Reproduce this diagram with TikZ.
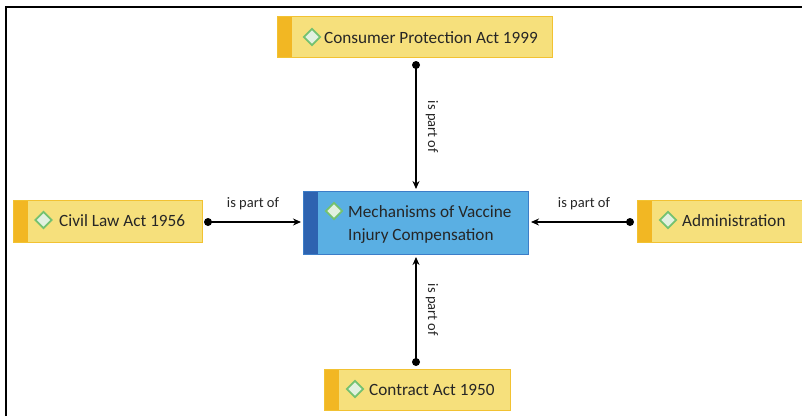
\documentclass[tikz,border=0pt]{standalone}
\usepackage{fontspec}
\setmainfont{Carlito}
\usetikzlibrary{shapes.geometric,arrows.meta}
\definecolor{fillyellow}{HTML}{F6E07C}
\definecolor{borderyellow}{HTML}{F2C232}
\definecolor{accentyellow}{HTML}{F2B723}
\definecolor{fillblue}{HTML}{5AAFE3}
\definecolor{borderblue}{HTML}{3C7DC8}
\definecolor{accentblue}{HTML}{2E63B0}
\definecolor{txtgray}{HTML}{262626}
\definecolor{dgreen}{HTML}{74C270}
\definecolor{lgreen}{HTML}{E2F1E0}
\tikzset{
  ybox/.style={fill=fillyellow, minimum height=41pt, inner sep=0pt},
  bbox/.style={fill=fillblue, minimum height=62pt, minimum width=224pt, inner sep=0pt},
  diam/.style={diamond, draw=dgreen, fill=lgreen, line width=1.7pt, minimum size=17pt, inner sep=0pt},
  lbl/.style={text=txtgray, font=\fontsize{17.2}{22}\selectfont, inner sep=0pt, anchor=west},
  rel/.style={text=txtgray, font=\fontsize{14.5}{17}\selectfont, inner sep=0pt},
  conn/.style={line width=1.3pt, -{Stealth[length=8pt,width=7pt]}},
  dotc/.style={circle, fill=black, minimum size=8pt, inner sep=0pt}
}
\newcommand{\boxaccent}[3]{%
  \fill[fill=#2] (#1.north west) rectangle ([xshift=14pt]#1.south west);
  \draw[draw=#3, line width=1pt] (#1.north west) rectangle (#1.south east);}
\begin{document}
\begin{tikzpicture}[x=1pt,y=-1pt]
\useasboundingbox (0,0) rectangle (802,416);
\fill[white] (0,0) rectangle (802,416);
\draw[line width=2pt] (6,416) -- (6,7) -- (802,7);
% boxes
\node[ybox, minimum width=274pt] (cpa) at (415,37) {};
\boxaccent{cpa}{accentyellow}{borderyellow}
\node[diam] (cpad) at (312,37) {};
\node[lbl] (cpat) at (324,37.5) {Consumer Protection Act 1999};

\node[ybox, minimum width=188pt] (cla) at (108,221.5) {};
\boxaccent{cla}{accentyellow}{borderyellow}
\node[diam] (clad) at (43.5,220) {};
\node[lbl] (clat) at (59,221) {Civil Law Act 1956};

\node[ybox, minimum width=180pt] (adm) at (728,221.5) {};
\boxaccent{adm}{accentyellow}{borderyellow}
\node[diam] (admd) at (668,220) {};
\node[lbl] (admt) at (682,221) {Administration};

\node[ybox, minimum width=185pt] (ca) at (417.5,390) {};
\boxaccent{ca}{accentyellow}{borderyellow}
\node[diam] (cad) at (355,389) {};
\node[lbl] (cat) at (369,390) {Contract Act 1950};

\node[bbox] (mech) at (416,223) {};
\boxaccent{mech}{accentblue}{borderblue}
\node[diam] (mechd) at (334,211) {};
\node[lbl, align=left, font=\fontsize{17.2}{23}\selectfont] (mecht) at (348,224) {Mechanisms of Vaccine\\Injury Compensation};

% connectors
\node[dotc] (p1) at (416,65) {};
\draw[conn] (p1.center) -- (416,189) coordinate (e1);
\node[rel, rotate=-90] (r1) at (432,127) {is part of};

\node[dotc] (p2) at (208,222) {};
\draw[conn] (p2.center) -- (301,222) coordinate (e2);
\node[rel] (r2) at (253,204) {is part of};

\node[dotc] (p3) at (630,222) {};
\draw[conn] (p3.center) -- (531,222) coordinate (e3);
\node[rel] (r3) at (584,204) {is part of};

\node[dotc] (p4) at (416,362) {};
\draw[conn] (p4.center) -- (416,257) coordinate (e4);
\node[rel, rotate=-90] (r4) at (432,310) {is part of};
\end{tikzpicture}
\end{document}
